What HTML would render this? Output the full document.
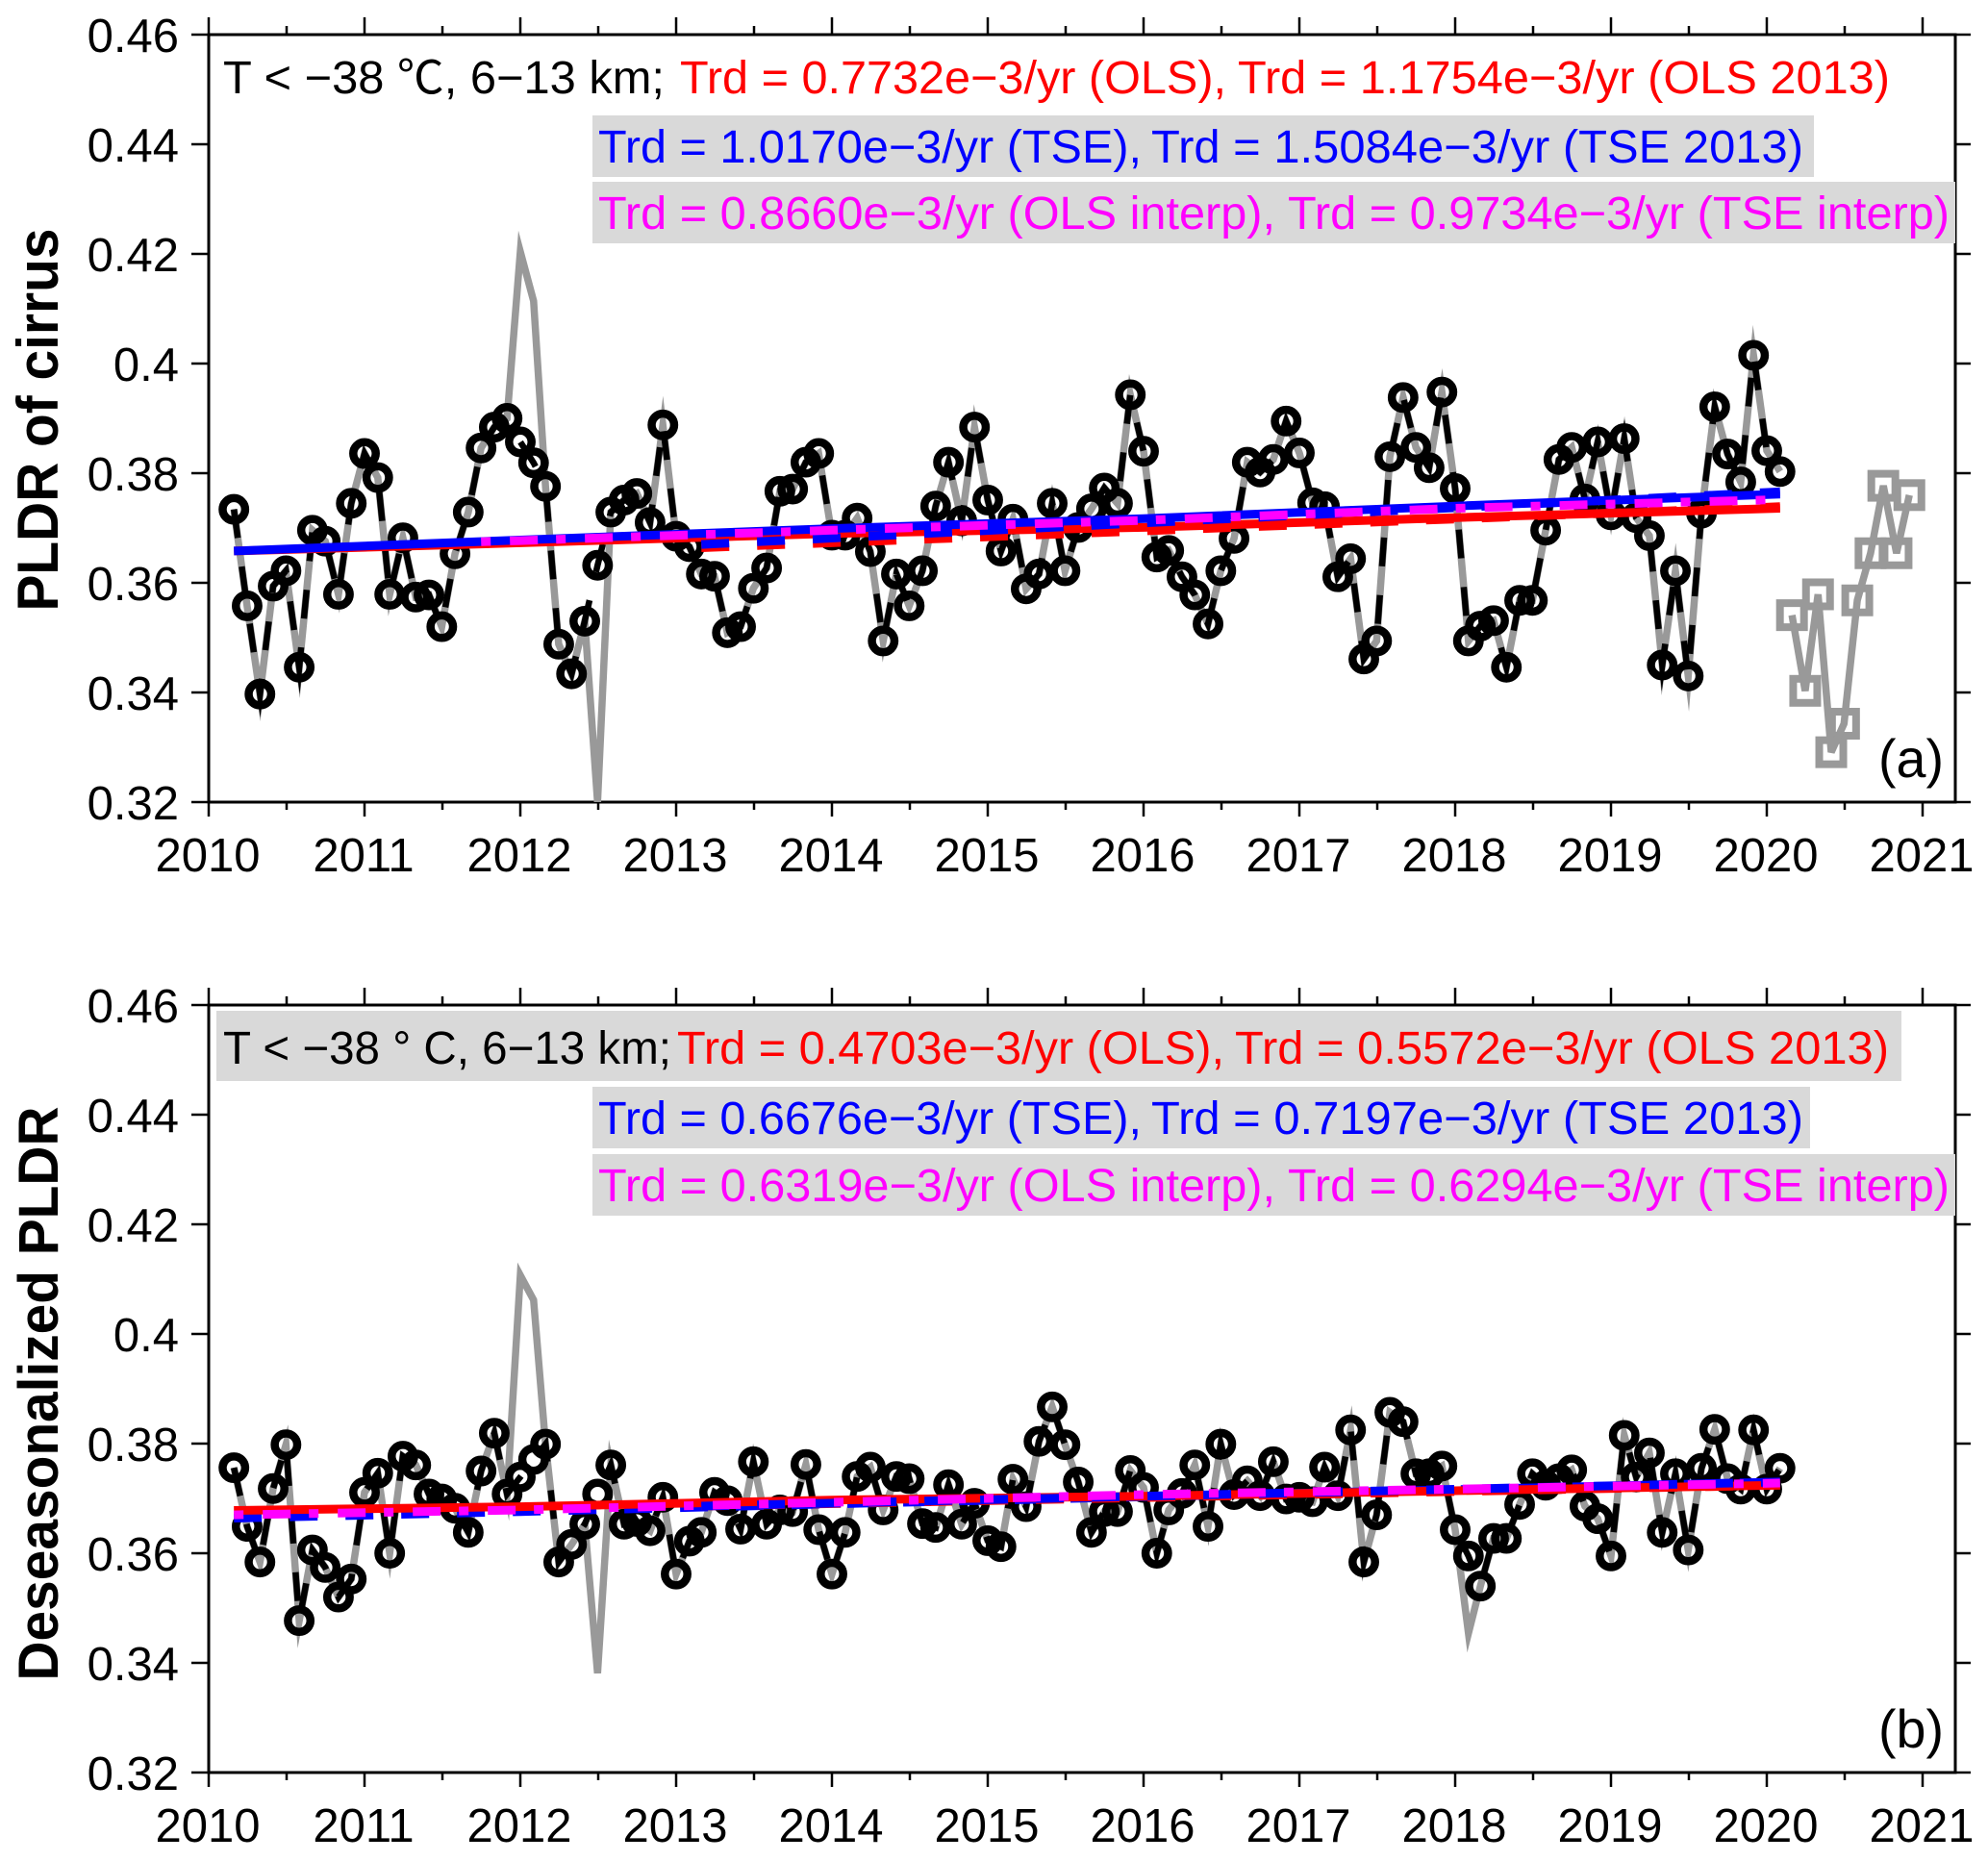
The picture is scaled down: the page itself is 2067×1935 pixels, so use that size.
<!DOCTYPE html>
<html lang="en">
<head>
<meta charset="utf-8">
<title>PLDR of cirrus time series</title>
<style>
  html, body { margin: 0; padding: 0; background: #fff; }
  svg { display: block; }
  text { font-family: "Liberation Sans", "Noto Sans CJK SC", sans-serif; }
  .anno { font-size: 48px; }
</style>
</head>
<body>
<svg id="chart" xmlns="http://www.w3.org/2000/svg" width="2067" height="1935" viewBox="0 0 2067 1935">
  <rect x="0" y="0" width="2067" height="1935" fill="#ffffff"/>
  <defs>
    <clipPath id="clip-a"><rect x="217" y="36" width="1816" height="798"/></clipPath>
    <clipPath id="clip-b"><rect x="217" y="1045" width="1816" height="798"/></clipPath>
  </defs>
  <g id="panel-a"></g>
  <g id="panel-b"></g>

  <g>
    <rect x="616" y="120" width="1270" height="64" fill="#d9d9d9"/>
    <rect x="616" y="189" width="1417" height="64" fill="#d9d9d9"/>
    <text class="anno" x="232" y="97" fill="#000" textLength="459" lengthAdjust="spacingAndGlyphs">T &lt; −38  ℃, 6−13 km;</text>
    <text class="anno" x="707" y="97" fill="#ff0000" textLength="568" lengthAdjust="spacingAndGlyphs">Trd = 0.7732e−3/yr (OLS),</text>
    <text class="anno" x="1287" y="97" fill="#ff0000" textLength="678" lengthAdjust="spacingAndGlyphs">Trd = 1.1754e−3/yr (OLS 2013)</text>
    <text class="anno" x="622" y="169" fill="#0000ff" textLength="565" lengthAdjust="spacingAndGlyphs">Trd = 1.0170e−3/yr (TSE),</text>
    <text class="anno" x="1197" y="169" fill="#0000ff" textLength="678" lengthAdjust="spacingAndGlyphs">Trd = 1.5084e−3/yr (TSE 2013)</text>
    <text class="anno" x="622" y="238" fill="#ff00ff" textLength="704" lengthAdjust="spacingAndGlyphs">Trd = 0.8660e−3/yr (OLS interp),</text>
    <text class="anno" x="1339" y="238" fill="#ff00ff" textLength="688" lengthAdjust="spacingAndGlyphs">Trd = 0.9734e−3/yr (TSE interp)</text>
    <text x="1953" y="808" font-size="56" fill="#000" textLength="68" lengthAdjust="spacingAndGlyphs">(a)</text>
  </g>

  <g>
    <rect x="225" y="1051" width="1752" height="73" fill="#d9d9d9"/>
    <rect x="616" y="1130" width="1266" height="64" fill="#d9d9d9"/>
    <rect x="616" y="1200" width="1417" height="64" fill="#d9d9d9"/>
    <text class="anno" x="232" y="1106" fill="#000" textLength="466" lengthAdjust="spacingAndGlyphs">T &lt; −38 ° C, 6−13 km;</text>
    <text class="anno" x="704" y="1106" fill="#ff0000" textLength="569" lengthAdjust="spacingAndGlyphs">Trd = 0.4703e−3/yr (OLS),</text>
    <text class="anno" x="1284" y="1106" fill="#ff0000" textLength="680" lengthAdjust="spacingAndGlyphs">Trd = 0.5572e−3/yr (OLS 2013)</text>
    <text class="anno" x="622" y="1179" fill="#0000ff" textLength="565" lengthAdjust="spacingAndGlyphs">Trd = 0.6676e−3/yr (TSE),</text>
    <text class="anno" x="1197" y="1179" fill="#0000ff" textLength="678" lengthAdjust="spacingAndGlyphs">Trd = 0.7197e−3/yr (TSE 2013)</text>
    <text class="anno" x="622" y="1249" fill="#ff00ff" textLength="704" lengthAdjust="spacingAndGlyphs">Trd = 0.6319e−3/yr (OLS interp),</text>
    <text class="anno" x="1339" y="1249" fill="#ff00ff" textLength="688" lengthAdjust="spacingAndGlyphs">Trd = 0.6294e−3/yr (TSE interp)</text>
    <text x="1953" y="1817" font-size="56" fill="#000" textLength="68" lengthAdjust="spacingAndGlyphs">(b)</text>
  </g>

  <text transform="translate(60,436.5) rotate(-90)" text-anchor="middle" font-size="60" font-weight="bold" fill="#000" textLength="398" lengthAdjust="spacingAndGlyphs">PLDR of cirrus</text>
  <text transform="translate(60,1449) rotate(-90)" text-anchor="middle" font-size="58" font-weight="bold" fill="#000" textLength="597" lengthAdjust="spacingAndGlyphs">Deseasonalized PLDR</text>
</svg>

<script>
const months = [
  '2010-03','2010-04','2010-05','2010-06','2010-07','2010-08','2010-09','2010-10','2010-11','2010-12',
  '2011-01','2011-02','2011-03','2011-04','2011-05','2011-06','2011-07','2011-08','2011-09','2011-10','2011-11','2011-12',
  '2012-01','2012-02','2012-03','2012-04','2012-05','2012-06','2012-07','2012-08','2012-09','2012-10','2012-11','2012-12',
  '2013-01','2013-02','2013-03','2013-04','2013-05','2013-06','2013-07','2013-08','2013-09','2013-10','2013-11','2013-12',
  '2014-01','2014-02','2014-03','2014-04','2014-05','2014-06','2014-07','2014-08','2014-09','2014-10','2014-11','2014-12',
  '2015-01','2015-02','2015-03','2015-04','2015-05','2015-06','2015-07','2015-08','2015-09','2015-10','2015-11','2015-12',
  '2016-01','2016-02','2016-03','2016-04','2016-05','2016-06','2016-07','2016-08','2016-09','2016-10','2016-11','2016-12',
  '2017-01','2017-02','2017-03','2017-04','2017-05','2017-06','2017-07','2017-08','2017-09','2017-10','2017-11','2017-12',
  '2018-01','2018-02','2018-03','2018-04','2018-05','2018-06','2018-07','2018-08','2018-09','2018-10','2018-11','2018-12',
  '2019-01','2019-02','2019-03','2019-04','2019-05','2019-06','2019-07','2019-08','2019-09','2019-10','2019-11','2019-12',
  '2020-01','2020-02'
];
const pldrA = [
  .3734,.3558,.3397,.3594,.3622,.3446,.3696,.3676,.3579,.3745,
  .3836,.3792,.3579,.3682,.3574,.3578,.352,.3653,.3729,.3846,.3884,.39,
  .3857,.3819,.3776,.3488,.3434,.353,.3632,.3729,.3751,.3763,.371,.3888,
  .3685,.3666,.3616,.3612,.3509,.352,.359,.3627,.3767,.3771,.382,.3836,
  .3687,.3687,.3718,.3657,.3494,.3616,.3558,.3622,.374,.382,.3713,.3884,
  .3751,.3658,.3716,.3589,.3616,.3745,.3622,.3701,.3735,.3773,.3745,.3943,
  .384,.3647,.3659,.3611,.3578,.3525,.3622,.3681,.382,.3802,.3825,.3895,
  .3837,.3746,.3739,.3611,.3644,.3461,.3494,.383,.3938,.3847,.381,.3948,
  .3772,.3494,.3521,.3531,.3446,.3568,.3568,.3696,.3825,.3847,.3753,.3857,
  .3724,.3863,.3719,.3686,.345,.3622,.343,.3727,.3921,.3835,.3784,.4015,
  .3841,.3803
];
const pldrB = [
  .3756,.3649,.3584,.3718,.3798,.3477,.3606,.3574,.352,.3553,
  .3711,.3746,.36,.3777,.3761,.3708,.3699,.3682,.3638,.375,.3819,.3708,
  .3739,.3771,.3799,.3584,.3616,.3653,.3708,.3761,.3653,.3658,.3641,.3702,
  .3562,.3622,.3638,.3711,.3696,.3644,.3767,.3653,.3679,.3676,.3762,.3643,
  .3562,.3638,.374,.3757,.3679,.374,.3736,.3654,.3647,.3725,.3653,.3691,
  .3623,.3612,.3735,.3685,.3804,.3867,.3798,.373,.3638,.3676,.3676,.3751,
  .372,.36,.3679,.3709,.3761,.3649,.3799,.3707,.3732,.3705,.3767,.3699,
  .3702,.3694,.3757,.3705,.3825,.3584,.367,.3857,.384,.3745,.3745,.3759,
  .3643,.3595,.354,.3627,.3627,.3689,.3745,.3724,.3736,.3752,.3686,.3663,
  .3595,.3815,.3739,.3783,.3638,.3745,.3606,.3755,.3826,.3736,.3717,.3825,
  .3717,.3755
];
// Months where the gray (unfiltered) series departs from the black one
const rawMonthsA = ['2012-01','2012-02','2012-07'];
const rawValuesA = [.4204,.4114,.32];
const rawMonthsB = ['2012-01','2012-02','2012-07','2018-02'];
const rawValuesB = [.4107,.4062,.3381,.3454];
// Gray open squares, panel (a)
const squareMonths = ['2020-03','2020-04','2020-05','2020-06','2020-07','2020-08','2020-09','2020-10','2020-11','2020-12'];
const squareValues = [.3541,.3403,.3579,.3291,.3343,.3568,.3654,.3777,.3654,.376];
// Trend lines
const trendMonths = ['2010-03','2012-01','2014-01','2016-01','2018-01','2020-02'];
const trendMonthsInterpA = ['2011-10','2012-01','2014-01','2016-01','2018-01','2020-02'];
const trend2013Months = ['2013-03','2020-02'];
const olsA = [.3658,.3673,.369,.3701,.3719,.3736];
const tseA = [.3658,.3678,.3699,.3717,.3740,.3762];
const interpA = [.3675,.3677,.3696,.3714,.3736,.3752];
const ols2013A = [.3664,.3739];
const tse2013A = [.367,.3766];
const olsB = [.3678,.3685,.3697,.3704,.3714,.3724];
const tseB = [.3664,.3676,.369,.3703,.3716,.373];
const interpB = [.367,.3679,.3693,.3707,.3717,.3728];
const ols2013B = [.3686,.3724];
const tse2013B = [.3686,.373];
// Axis ticks
const xTickYears = [2010,2011,2012,2013,2014,2015,2016,2017,2018,2019,2020,2021];
const xMinorTicks = [2010.5,2011.5,2012.5,2013.5,2014.5,2015.5,2016.5,2017.5,2018.5,2019.5,2020.5];
const yTickValues = [.46,.44,.42,.40,.38,.36,.34,.32];
const yTickLabels = ['0.46','0.44','0.42','0.4','0.38','0.36','0.34','0.32'];
const yDomain = [.32,.46];
const xDomainStart = 2010;

const NS = 'http://www.w3.org/2000/svg';
const dayOffset = [0,31,59,90,120,151,181,212,243,273,304,334];
const LEFT = 217, RIGHT = 2033, PX_PER_YEAR = 162, PLOT_H = 798;

function toYear(s) {
  const p = s.split('-').map(Number);
  return p[0] + dayOffset[p[1]-1] / 365;
}
function xScale(year) { return LEFT + (year - xDomainStart) * PX_PER_YEAR; }
function make(parent, tag, attrs) {
  const el = document.createElementNS(NS, tag);
  for (const k in attrs) el.setAttribute(k, attrs[k]);
  parent.appendChild(el);
  return el;
}
function pathFrom(dates, values, yScale) {
  return dates.map((d, i) => (i ? 'L' : 'M') + xScale(toYear(d)).toFixed(1) + ' ' + yScale(values[i]).toFixed(1)).join(' ');
}
function line(parent, x1, y1, x2, y2, w) {
  return make(parent, 'line', {x1, y1, x2, y2, stroke: '#000', 'stroke-width': w});
}

function drawAxes(g, top) {
  const bottom = top + PLOT_H;
  const yScale = v => bottom - (v - yDomain[0]) / (yDomain[1] - yDomain[0]) * PLOT_H;
  const frame = make(g, 'rect', {x: LEFT, y: top, width: RIGHT - LEFT, height: PLOT_H, fill: 'none', stroke: '#000', 'stroke-width': 3});
  
  
  yTickValues.forEach((v, i) => {
    const y = yScale(v);
    const left = line(g, LEFT - 18, y, LEFT, y, 2.5);
    
    
    const right = line(g, RIGHT, y, RIGHT + 16, y, 2.5);
    
    
    const t = make(g, 'text', {x: 186, y: y + 18, 'text-anchor': 'end', 'font-size': 49, fill: '#000'});
    t.textContent = yTickLabels[i];
    
    
  });
  xTickYears.forEach(yr => {
    const x = xScale(yr);
    const up = line(g, x, top - 18, x, top, 2.5);
    
    
    const down = line(g, x, bottom, x, bottom + 15, 2.5);
    
    
    const t = make(g, 'text', {x: x - 1, y: bottom + 72, 'text-anchor': 'middle', 'font-size': 49, fill: '#000'});
    t.textContent = String(yr);
    
    
  });
  xMinorTicks.forEach(yr => {
    const x = xScale(yr);
    const up = line(g, x, top - 9, x, top, 2.5);
    
    
    const down = line(g, x, bottom, x, bottom + 8, 2.5);
    
    
  });
  return yScale;
}

function drawSeries(g, yScale, clipId, values, rawMonths, rawValues) {
  const plot = make(g, 'g', {'clip-path': 'url(#' + clipId + ')'});
  
  
  const raw = values.slice();
  rawMonths.forEach((m, i) => { raw[months.indexOf(m)] = rawValues[i]; });
  const common = {fill: 'none', 'stroke-linejoin': 'miter', 'stroke-miterlimit': 12};
  const gray = make(plot, 'path', Object.assign({d: pathFrom(months, raw, yScale), stroke: '#999999', 'stroke-width': 7.5}, common));
  
  
  const black = make(plot, 'path', Object.assign({d: pathFrom(months, values, yScale), stroke: '#000000', 'stroke-width': 6.5, 'stroke-dasharray': '30 30'}, common));
  
  
  months.forEach((m, i) => {
    const c = make(plot, 'circle', {cx: xScale(toYear(m)), cy: yScale(values[i]), r: 11.7, fill: 'none', stroke: '#000', 'stroke-width': 8.5});
    
    
  });
  return plot;
}

function trend(plot, dates, values, yScale, color, dash, name) {
  const attrs = {d: pathFrom(dates, values, yScale), fill: 'none', stroke: color, 'stroke-width': 9};
  if (dash) attrs['stroke-dasharray'] = dash;
  const p = make(plot, 'path', attrs);
  
  
}

// Panel (a)
const gA = document.getElementById('panel-a');
const yA = drawAxes(gA, 36);
const plotA = drawSeries(gA, yA, 'clip-a', pldrA, rawMonthsA, rawValuesA);
// open gray squares after the main record
const squaresG = make(plotA, 'g', {});


squareMonths.forEach((m, i) => {
  const cx = xScale(toYear(m)), cy = yA(squareValues[i]);
  const s = make(squaresG, 'rect', {x: cx - 12.5, y: cy - 12.5, width: 25, height: 25, fill: 'none', stroke: '#999999', 'stroke-width': 8});
  
  
});
const sqLine = make(squaresG, 'path', {d: pathFrom(squareMonths, squareValues, yA), fill: 'none', stroke: '#999999', 'stroke-width': 7.5, 'stroke-linejoin': 'bevel'});


trend(plotA, trendMonths, olsA, yA, '#ff0000', null, 'trend-ols');
trend(plotA, trend2013Months, ols2013A, yA, '#ff0000', '29 29', 'trend-ols-2013');
trend(plotA, trendMonths, tseA, yA, '#0000ff', null, 'trend-tse');
trend(plotA, trend2013Months, tse2013A, yA, '#0000ff', '29 29', 'trend-tse-2013');
trend(plotA, trendMonthsInterpA, interpA, yA, '#ff00ff', '10 20 29 19', 'trend-interp');

// Panel (b)
const gB = document.getElementById('panel-b');
const yB = drawAxes(gB, 1045);
const plotB = drawSeries(gB, yB, 'clip-b', pldrB, rawMonthsB, rawValuesB);
trend(plotB, trendMonths, tseB, yB, '#0000ff', '29 29', 'trend-tse');
trend(plotB, trendMonths, olsB, yB, '#ff0000', null, 'trend-ols');
trend(plotB, trend2013Months, ols2013B, yB, '#ff0000', '29 29', 'trend-ols-2013');
trend(plotB, trend2013Months, tse2013B, yB, '#0000ff', '29 29', 'trend-tse-2013');
trend(plotB, trendMonths, interpB, yB, '#ff00ff', '10 20 29 19', 'trend-interp');
</script>
</body>
</html>
